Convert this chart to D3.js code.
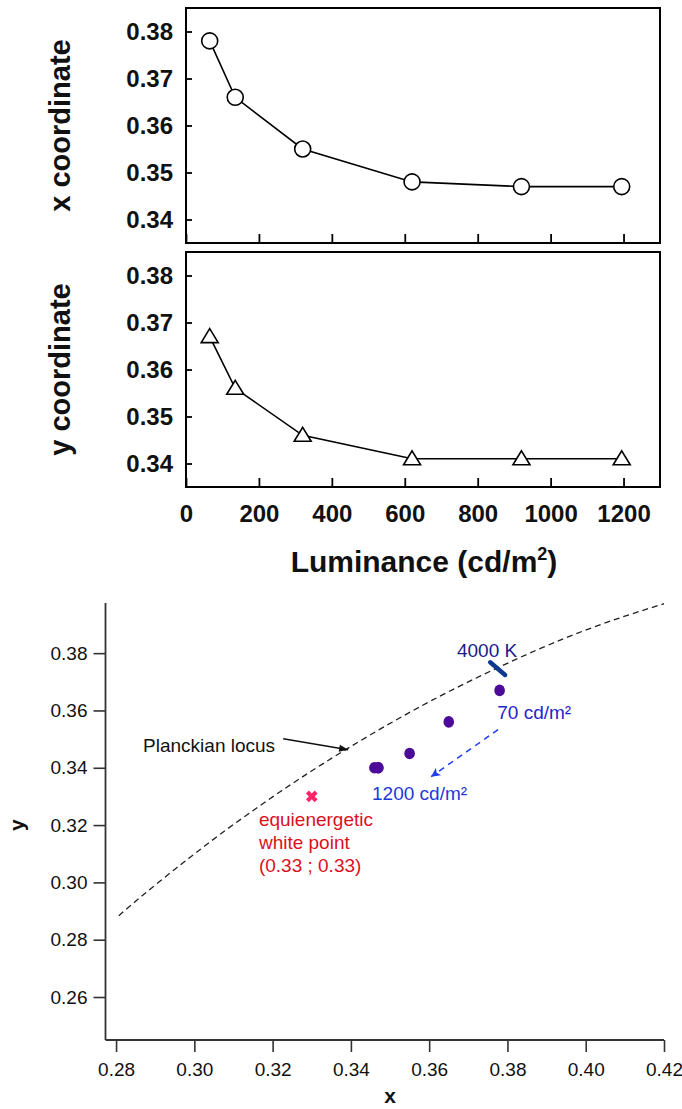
<!DOCTYPE html>
<html lang="en">
<head>
    <meta charset="UTF-8">
    <title>Chromaticity vs luminance</title>
    <script src="https://cdnjs.cloudflare.com/ajax/libs/d3/7.8.5/d3.min.js"></script>
    <style>
        body { margin: 0; background: #fff; }
        svg { display: block; font-family: 'Liberation Sans', Arial, sans-serif; }
        .frame { fill: none; stroke: #000; stroke-width: 2px; }
        .panel .tick line { stroke: #000; stroke-width: 1.8px; }
        .panel .tick text { font-size: 24px; font-weight: bold; fill: #111; }
        .series { fill: none; stroke: #000; stroke-width: 1.6px; }
        .marker { fill: #fff; stroke: #000; stroke-width: 1.6px; }
        .title { font-weight: bold; fill: #111; }
        .cie .tick line { stroke: #333; stroke-width: 1.6px; }
        .cie .tick text { font-size: 19px; fill: #111; }
        .axisline { stroke: #333; stroke-width: 1.8px; }
        .note { font-size: 19px; }
    </style>
</head>
<body>
<svg id="main" width="682" height="1109"></svg>
<script>
    "use strict";

    // top figure: chromaticity coordinates against luminance
    const luminance = [65, 135, 320, 620, 920, 1195];
    const xCoord = [0.378, 0.366, 0.355, 0.348, 0.347, 0.347];
    const yCoord = [0.367, 0.356, 0.346, 0.341, 0.341, 0.341];
    const lumTicks = [0, 200, 400, 600, 800, 1000, 1200];
    const coordTicks = [0.34, 0.35, 0.36, 0.37, 0.38];

    // bottom figure: CIE 1931 xy
    const chromaX = [0.378, 0.365, 0.355, 0.347, 0.347, 0.346];
    const chromaY = [0.367, 0.356, 0.345, 0.340, 0.340, 0.340];
    const planckX = [0.2807, 0.2869, 0.2952, 0.3004, 0.3064, 0.3135, 0.3221, 0.3325, 0.3451, 0.3608, 0.3805, 0.4053, 0.4369];
    const planckY = [0.2884, 0.2956, 0.3048, 0.3103, 0.3166, 0.3236, 0.3318, 0.3411, 0.3516, 0.3636, 0.3768, 0.3907, 0.4041];
    const cieXTicks = [0.28, 0.30, 0.32, 0.34, 0.36, 0.38, 0.40, 0.42];
    const cieYTicks = [0.26, 0.28, 0.30, 0.32, 0.34, 0.36, 0.38];
    const whitePoint = [0.33, 0.33];
    const mark4000K = [[0.3756, 0.3768], [0.3794, 0.3724]];

    const svg = d3.select("#main");
    const fmt = d3.format(".2f");

    // ---------- top figure ----------
    const lx = d3.scaleLinear().domain([0, 1300]).range([186, 660]);

    function drawPanel(top, bottom, values, shape, title, withLabels) {
        const y = d3.scaleLinear().domain([0.335, 0.385]).range([bottom, top]);
        const g = svg.append("g").attr("class", "panel");

        g.append("g")
            .attr("transform", "translate(" + lx(0) + ",0)")
            .call(d3.axisLeft(y).tickValues(coordTicks).tickFormat(fmt).tickSize(-6).tickPadding(13))
            .call(a => a.select(".domain").remove());

        const xa = g.append("g")
            .attr("transform", "translate(0," + bottom + ")")
            .call(d3.axisBottom(lx).tickValues(lumTicks).tickSize(-9).tickPadding(17.5).tickFormat(d3.format("d")))
            .call(a => a.select(".domain").remove());
        if (!withLabels) xa.selectAll("text").remove();

        g.append("rect").attr("class", "frame")
            .attr("x", lx(0)).attr("y", top)
            .attr("width", lx(1300) - lx(0)).attr("height", bottom - top);

        const pts = luminance.map((l, i) => [lx(l), y(values[i])]);
        g.append("path").attr("class", "series").attr("d", d3.line()(pts));

        g.selectAll("path.marker").data(pts).enter().append("path")
            .attr("class", "marker")
            .attr("transform", d => "translate(" + d[0] + "," + d[1] + ")")
            .attr("d", shape);

        g.append("text").attr("class", "title")
            .attr("transform", "translate(70," + (top + bottom) / 2 + ") rotate(-90)")
            .attr("text-anchor", "middle").attr("font-size", 29)
            .text(title);
    }

    const circle = d3.symbol(d3.symbolCircle, Math.PI * 64)();
    const triangle = "M0,-8L8.5,6L-8.5,6Z";

    drawPanel(8, 243, xCoord, circle, "x coordinate", false);
    drawPanel(252, 487, yCoord, triangle, "y coordinate", true);

    const lumTitle = svg.append("text").attr("class", "title")
        .attr("x", 424).attr("y", 572).attr("text-anchor", "middle").attr("font-size", 30);
    lumTitle.append("tspan").text("Luminance (cd/m");
    lumTitle.append("tspan").attr("font-size", 18).attr("dy", -12).text("2");
    lumTitle.append("tspan").attr("dy", 12).text(")");

    // ---------- bottom figure ----------
    const cx = d3.scaleLinear().domain([0.2773, 0.42]).range([105.5, 664]);
    const cy = d3.scaleLinear().domain([0.245, 0.3975]).range([1040, 603]);
    const cie = svg.append("g").attr("class", "cie");

    const defs = cie.append("defs");
    defs.append("clipPath").attr("id", "plotclip")
        .append("rect").attr("x", cx(0.2773)).attr("y", cy(0.41))
        .attr("width", cx(0.42) - cx(0.2773)).attr("height", cy(0.245) - cy(0.41));

    function arrowMarker(id, color, path) {
        defs.append("marker").attr("id", id)
            .attr("viewBox", "0 0 10 10").attr("refX", 10).attr("refY", 5)
            .attr("markerUnits", "userSpaceOnUse")
            .attr("markerWidth", 15).attr("markerHeight", 9)
            .attr("orient", "auto")
            .append("path").attr("d", path).attr("fill", color);
    }
    arrowMarker("headBlack", "#111", "M0,1L10,5L0,9Z");
    arrowMarker("headBlue", "#1f3cf0", "M0,0L10,5L0,10L2.5,5Z");

    cie.append("g")
        .attr("transform", "translate(0," + cy(0.245) + ")")
        .call(d3.axisBottom(cx).tickValues(cieXTicks).tickFormat(fmt).tickSize(12).tickPadding(11))
        .call(a => a.select(".domain").remove());
    cie.append("g")
        .attr("transform", "translate(" + cx(0.2773) + ",0)")
        .call(d3.axisLeft(cy).tickValues(cieYTicks).tickFormat(fmt).tickSize(12).tickPadding(6))
        .call(a => a.select(".domain").remove());
    cie.append("line").attr("class", "axisline")
        .attr("x1", cx(0.2773)).attr("x2", cx(0.42)).attr("y1", cy(0.245)).attr("y2", cy(0.245));
    cie.append("line").attr("class", "axisline")
        .attr("x1", cx(0.2773)).attr("x2", cx(0.2773)).attr("y1", cy(0.245)).attr("y2", cy(0.3975));

    // Planckian locus
    cie.append("path")
        .attr("clip-path", "url(#plotclip)")
        .attr("d", d3.line().curve(d3.curveNatural).x(d => cx(d)).y((d, i) => cy(planckY[i]))(planckX))
        .attr("fill", "none").attr("stroke", "#222").attr("stroke-width", 1.3)
        .attr("stroke-dasharray", "6,4");

    cie.append("line")
        .attr("x1", cx(mark4000K[0][0])).attr("y1", cy(mark4000K[0][1]))
        .attr("x2", cx(mark4000K[1][0])).attr("y2", cy(mark4000K[1][1]))
        .attr("stroke", "#0c3a8e").attr("stroke-width", 4.5).attr("stroke-linecap", "round");

    // measured chromaticities
    cie.selectAll("ellipse.pt").data(chromaX).enter().append("ellipse")
        .attr("class", "pt")
        .attr("cx", d => cx(d)).attr("cy", (d, i) => cy(chromaY[i]))
        .attr("rx", 5.3).attr("ry", 5.8)
        .attr("fill", "#4b0a98");

    cie.append("path")
        .attr("transform", "translate(" + cx(whitePoint[0]) + "," + cy(whitePoint[1]) + ") rotate(45)")
        .attr("d", d3.symbol(d3.symbolCross, 85)())
        .attr("fill", "#ff2468");

    // annotations
    cie.append("line")
        .attr("x1", cx(0.3227)).attr("y1", cy(0.3501)).attr("x2", cx(0.3393)).attr("y2", cy(0.3463))
        .attr("stroke", "#111").attr("stroke-width", 1.5).attr("marker-end", "url(#headBlack)");
    cie.append("line")
        .attr("x1", cx(0.3776)).attr("y1", cy(0.3533)).attr("x2", cx(0.3605)).attr("y2", cy(0.3369))
        .attr("stroke", "#1f3cf0").attr("stroke-width", 1.5).attr("stroke-dasharray", "6,5")
        .attr("marker-end", "url(#headBlue)");

    const notes = [
        { text: "Planckian locus", x: 0.2869, y: 0.3456, color: "#111" },
        { text: "4000 K", x: 0.3671, y: 0.3787, color: "#1a1a8a" },
        { text: "70 cd/m²", x: 0.3774, y: 0.3571, color: "#1f25cc" },
        { text: "1200 cd/m²", x: 0.3454, y: 0.3288, color: "#2238dc" },
        { text: "equienergetic", x: 0.3165, y: 0.3198, color: "#dc0f1e" },
        { text: "white point", x: 0.3165, y: 0.3118, color: "#dc0f1e" },
        { text: "(0.33 ; 0.33)", x: 0.3165, y: 0.3037, color: "#dc0f1e" }
    ];
    cie.selectAll("text.note").data(notes).enter().append("text")
        .attr("class", "note")
        .attr("x", d => cx(d.x)).attr("y", d => cy(d.y))
        .attr("fill", d => d.color)
        .text(d => d.text);

    cie.append("text").attr("class", "title")
        .attr("x", cx(0.35)).attr("y", 1103).attr("text-anchor", "middle").attr("font-size", 21)
        .text("x");
    cie.append("text").attr("class", "title")
        .attr("transform", "translate(24," + cy(0.32) + ") rotate(-90)")
        .attr("text-anchor", "middle").attr("font-size", 21)
        .text("y");
</script>
</body>
</html>
